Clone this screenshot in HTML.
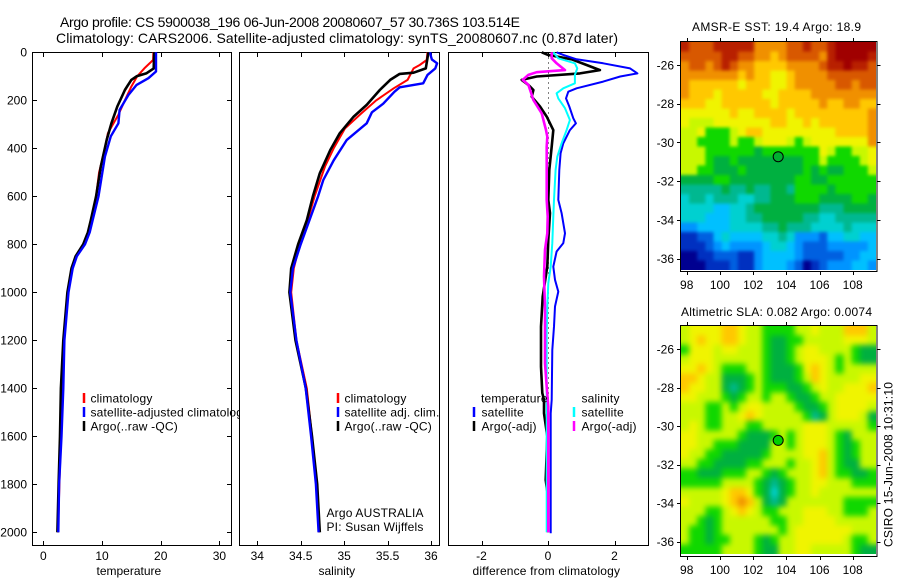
<!DOCTYPE html>
<html lang="en">
<head>
<meta charset="utf-8">
<title>Argo profile 5900038_196</title>
<style>
html,body{margin:0;padding:0;background:#fff;}
svg{display:block;}
text{font-family:"Liberation Sans",sans-serif;font-size:12px;fill:#000;}
.title{font-size:14px;}
.leg{letter-spacing:0.18px;}
</style>
</head>
<body>
<svg id="chart" width="900" height="580" viewBox="0 0 900 580" xmlns="http://www.w3.org/2000/svg">
  <defs>
    <filter id="blur-sst" x="-5%" y="-5%" width="110%" height="110%" color-interpolation-filters="sRGB"><feGaussianBlur stdDeviation="1.6"/></filter>
    <filter id="blur-sla" x="-5%" y="-5%" width="110%" height="110%" color-interpolation-filters="sRGB"><feGaussianBlur stdDeviation="2.8"/></filter>
    <clipPath id="clip-sst"><rect x="681" y="42" width="195" height="228"/></clipPath>
    <clipPath id="clip-sla"><rect x="681" y="326" width="195" height="228"/></clipPath>
  </defs>
  <rect x="0" y="0" width="900" height="580" fill="#fff"/>
  <text class="title" x="60" y="27" textLength="460" lengthAdjust="spacing">Argo profile: CS 5900038_196 06-Jun-2008 20080607_57 30.736S 103.514E</text>
  <text class="title" x="56" y="43" textLength="562" lengthAdjust="spacing">Climatology: CARS2006. Satellite-adjusted climatology: synTS_20080607.nc (0.87d later)</text>

  <g id="panel-temp">
    <rect x="32.5" y="52.5" width="199" height="493" fill="#fff" stroke="#000" stroke-width="1"/>
    <g id="temp-axes"></g>
    <g id="temp-lines"></g>
    <text x="96.5" y="575">temperature</text>
    <line x1="84" x2="84" y1="393" y2="403" stroke="#f00" stroke-width="2.5"/>
    <text class="leg" x="90.5" y="402.5">climatology</text>
    <line x1="84" x2="84" y1="407" y2="417" stroke="#00f" stroke-width="2.5"/>
    <text class="leg" x="90.5" y="416.5">satellite-adjusted climatology</text>
    <line x1="84" x2="84" y1="421" y2="431" stroke="#000" stroke-width="2.5"/>
    <text class="leg" x="90.5" y="430.5">Argo(..raw -QC)</text>
  </g>

  <g id="panel-sal">
    <rect x="239.5" y="52.5" width="200" height="493" fill="#fff" stroke="#000" stroke-width="1"/>
    <g id="sal-axes"></g>
    <g id="sal-lines"></g>
    <text x="318.5" y="575">salinity</text>
    <line x1="338" x2="338" y1="393" y2="403" stroke="#f00" stroke-width="2.5"/>
    <text class="leg" x="344.5" y="402.5">climatology</text>
    <line x1="338" x2="338" y1="407" y2="417" stroke="#00f" stroke-width="2.5"/>
    <text class="leg" x="344.5" y="416.5">satellite adj. clim.</text>
    <line x1="338" x2="338" y1="421" y2="431" stroke="#000" stroke-width="2.5"/>
    <text class="leg" x="344.5" y="430.5">Argo(..raw -QC)</text>
    <text class="leg" x="326.5" y="517">Argo AUSTRALIA</text>
    <text class="leg" x="326.5" y="531">PI: Susan Wijffels</text>
  </g>

  <g id="panel-diff">
    <rect x="448.5" y="52.5" width="200" height="493" fill="#fff" stroke="#000" stroke-width="1"/>
    <g id="diff-axes"></g>
    <g id="diff-lines"></g>
    <text x="472.5" y="575" textLength="147.5" lengthAdjust="spacing">difference from climatology</text>
    <text class="leg" x="481" y="402.5">temperature</text>
    <line x1="474" x2="474" y1="407" y2="417" stroke="#00f" stroke-width="2.5"/>
    <text class="leg" x="481.5" y="416.5">satellite</text>
    <line x1="474" x2="474" y1="421" y2="431" stroke="#000" stroke-width="2.5"/>
    <text class="leg" x="481.5" y="430.5">Argo(-adj)</text>
    <text class="leg" x="581.5" y="402.5">salinity</text>
    <line x1="574" x2="574" y1="407" y2="417" stroke="#0ff" stroke-width="2.5"/>
    <text class="leg" x="581.5" y="416.5">satellite</text>
    <line x1="574" x2="574" y1="421" y2="431" stroke="#f0f" stroke-width="2.5"/>
    <text class="leg" x="581.5" y="430.5">Argo(-adj)</text>
  </g>

  <g id="map-sst">
    <text x="692" y="31" textLength="169" lengthAdjust="spacing">AMSR-E SST: 19.4 Argo: 18.9</text>
  </g>
  <g id="map-sla">
    <text x="681" y="316" textLength="191" lengthAdjust="spacing">Altimetric SLA: 0.082 Argo: 0.0074</text>
  </g>
  <text transform="translate(892.5,547) rotate(-90)" textLength="165" lengthAdjust="spacing">CSIRO 15-Jun-2008 10:31:10</text>
</svg>

<script>
// ---------- profile data ----------
const tempClimDepth = [0,32,67,100,143,200,260,337,400,500,600,700,750,800,850,900,1000,1200,1400,1600,1800,2000];
const tempClimValues = [18.75,18.7,17.2,16,15,13.9,12.8,11,10.5,9.5,9,8.2,7.7,6.9,5.6,4.9,4.2,3.5,3.2,3.0,2.75,2.5];
const tempSatDepth = [0,80,108,136,178,240,296,350,435,600,700,750,800,850,900,1000,1200,1400,1600,1800,2000];
const tempSatValues = [19.2,19.2,17.9,15.9,14.5,13,12.8,11.5,10.5,9.4,8.4,7.9,7.1,5.7,5,4.3,3.6,3.4,3.1,2.7,2.55];
const tempArgoDepth = [0,67,87,100,115,157,226,296,365,476,600,700,750,800,850,900,1000,1200,1400,1600,1800,2000];
const tempArgoValues = [18.9,18.8,17.6,15.9,15,13.9,12.6,11.6,10.8,9.8,9,8.1,7.6,6.8,5.5,4.8,4.1,3.4,3.0,2.85,2.6,2.4];

const salClimDepth = [0,32,53,67,115,150,200,254,317,400,476,600,700,800,900,1000,1200,1400,1600,1800,2000];
const salClimValues = [35.96,35.95,35.87,35.8,35.73,35.57,35.37,35.2,35.01,34.88,34.78,34.66,34.58,34.49,34.42,34.39,34.45,34.57,34.63,34.68,34.71];
const salSatDepth = [0,18,30,46,67,94,129,146,164,214,250,296,365,450,532,600,700,800,900,1000,1200,1400,1600,1800,2000];
const salSatValues = [35.99,36,36.01,36.07,36.05,35.96,35.91,35.64,35.58,35.45,35.32,35.26,35.03,34.88,34.76,34.7,34.6,34.5,34.41,34.38,34.45,34.557,34.62,34.675,34.706];
const salArgoDepth = [0,67,85,90,115,157,219,268,337,407,504,600,700,800,900,1000,1200,1400,1600,1800,2000];
const salArgoValues = [35.97,35.94,35.8,35.64,35.53,35.41,35.26,35.11,34.95,34.84,34.72,34.64,34.57,34.47,34.39,34.37,34.44,34.56,34.63,34.69,34.72];

const diffTempSatDepth = [0,11,29,46,67,88,101,122,150,164,192,226,275,296,324,379,421,490,615,670,754,795,830,893,948,997,1059,1143,1240,1448,1504,2004];
const diffTempSatValues = [0.26,0.46,0.86,1.66,2.47,2.69,2.17,1.66,0.86,0.61,0.54,0.64,0.76,0.84,0.66,0.46,0.38,0.34,0.31,0.41,0.51,0.46,0.26,0.16,0.21,0.31,0.21,0.18,0.13,0.11,0.08,0.08];
const diffTempArgoDepth = [0,11,29,53,74,88,101,115,136,157,185,226,268,324,393,490,615,670,782,893,1018,1143,1310,1420,1448,1504,1600,1782,1830,2000];
const diffTempArgoValues = [-0.19,0,0.71,1.16,1.56,0.96,-0.34,-0.79,-0.59,-0.44,-0.49,-0.24,-0.04,0.16,0.11,0.04,0.01,0.06,0.01,-0.02,-0.16,-0.21,-0.21,-0.17,-0.12,-0.12,-0.02,-0.07,-0.02,0];
const diffSalSatDepth = [0,25,46,67,94,129,150,171,192,233,282,324,379,435,490,615,684,795,893,962,1059,1170,1448,2000];
const diffSalSatValues = [0.16,0.31,0.81,0.88,0.81,0.81,0.46,0.26,0.31,0.51,0.66,0.56,0.41,0.28,0.23,0.18,0.16,0.13,0.08,0.01,-0.02,-0.04,-0.04,-0.04];
const diffSalArgoDepth = [0,25,46,74,83,94,115,136,164,199,254,324,352,393,615,684,754,823,934,1059,1198,1296,1393,1476,1643,1851,2000];
const diffSalArgoValues = [0.11,0.11,0.26,0.51,-0.34,-0.59,-0.76,-0.59,-0.52,-0.44,-0.19,-0.06,-0.02,-0.04,-0.04,-0.01,-0.02,-0.09,-0.12,-0.09,-0.09,-0.09,-0.04,0.01,0.01,0.01,0.01];

// ---------- tick labels ----------
const depthTicks = [0,200,400,600,800,1000,1200,1400,1600,1800,2000];
const tempTicks = [0,10,20,30];
const salTicks = [34,34.5,35,35.5,36];
const diffTicks = [-2,0,2];
const lonTicks = [98,100,102,104,106,108];
const latTicks = [-26,-28,-30,-32,-34,-36];

// ---------- map data: colour level per cell, north to south ----------
const levelColours = ['#000090','#0030c0','#0060e0','#0094ff','#00c0ff','#00d0d0','#00b890','#00b040','#10d800','#c8f800','#f0f400','#ffc800','#f09000','#d85800','#b82000','#a00000'];
const sstGrid = [
[14,13,13,13,14,14,14,14,14,12,12,12,12,13,13,14,13,13,14,15,15,15,15,15],
[13,13,13,13,13,14,14,13,13,12,12,11,12,13,13,13,13,12,14,15,15,15,15,14],
[12,13,13,12,13,14,13,12,12,11,11,11,11,12,12,12,12,13,14,14,15,14,14,13],
[12,12,12,12,12,12,12,11,12,11,11,10,10,11,12,12,12,12,13,13,13,13,13,13],
[12,11,11,11,11,11,11,10,11,11,11,10,10,11,12,12,12,12,12,13,13,12,13,13],
[12,11,11,11,10,11,11,11,11,11,10,10,11,11,11,11,12,12,12,12,12,12,12,12],
[11,11,11,10,10,11,11,11,11,11,11,10,11,11,11,11,11,12,11,11,12,12,11,11],
[10,10,10,10,10,10,11,10,10,11,11,11,11,10,11,11,11,11,11,11,11,11,11,12],
[10,9,9,9,10,10,10,10,10,10,10,11,11,10,10,11,10,11,11,11,11,11,11,12],
[9,9,10,8,8,8,9,10,11,11,10,10,10,10,10,10,10,10,10,11,11,11,11,12],
[9,9,8,8,8,8,9,8,8,9,10,10,10,9,8,9,10,10,10,10,10,10,10,12],
[9,9,9,8,8,8,8,8,8,7,8,8,8,8,8,8,8,10,9,8,8,9,9,10],
[9,9,9,8,7,7,8,7,7,7,7,7,7,7,7,8,8,9,8,8,8,8,9,10],
[9,9,8,8,7,7,7,8,7,7,7,7,7,7,7,8,7,8,7,7,8,8,8,9],
[7,7,7,7,8,8,7,7,7,7,7,7,7,7,8,8,7,7,8,8,8,8,8,8],
[6,6,6,6,6,7,6,6,7,6,6,7,7,6,8,8,8,8,7,8,8,8,8,8],
[5,6,6,5,6,6,6,5,5,6,6,7,7,7,8,8,8,7,7,7,7,8,8,7],
[5,5,5,5,4,4,5,5,6,7,7,7,7,7,7,7,7,6,6,6,7,7,7,7],
[5,5,5,4,4,4,5,5,6,6,7,7,7,7,7,6,6,5,5,6,6,6,6,6],
[3,3,4,4,4,4,5,5,5,5,6,6,7,6,6,6,5,5,5,5,6,5,5,5],
[1,1,2,2,4,5,4,4,4,4,5,5,6,5,3,3,3,2,4,4,5,5,4,4],
[1,1,1,2,3,4,3,3,3,3,4,5,5,4,3,2,2,2,3,3,3,3,3,4],
[0,0,1,1,2,2,2,1,1,3,4,4,4,4,3,2,2,2,2,2,3,3,4,4],
[0,0,0,1,1,1,2,1,1,3,4,4,4,3,2,0,1,2,3,3,3,4,4,3]
];
const slaGrid = [
[9,10,10,10,10,11,11,10,9,9,8,8,8,8,9,9,10,9,9,9,11,11,11,9],
[9,10,11,10,10,11,11,10,9,9,8,7,7,8,8,9,9,9,9,9,10,10,10,9],
[8,10,10,10,9,10,10,9,9,9,8,7,7,8,9,10,10,9,9,9,9,8,7,7],
[9,10,10,10,9,9,9,9,9,9,8,7,7,8,9,10,10,10,9,8,9,8,7,7],
[10,10,11,10,9,8,8,8,9,9,8,7,7,7,8,10,11,10,9,8,9,9,9,9],
[11,11,10,9,9,7,7,7,8,9,8,7,7,7,8,9,11,10,9,9,9,9,10,10],
[11,10,10,9,9,7,6,7,8,9,8,8,8,7,7,8,9,10,9,9,10,10,10,11],
[10,10,9,9,9,8,7,8,9,9,8,9,9,8,7,7,8,9,9,10,10,10,10,10],
[9,9,9,8,8,9,8,9,10,10,9,9,9,9,8,7,7,8,9,10,10,10,10,9],
[9,9,9,8,8,9,9,10,11,10,9,9,9,9,9,8,6,7,9,10,10,10,9,7],
[9,10,9,8,8,9,9,9,8,8,9,9,9,9,9,10,10,10,9,9,9,9,9,8],
[10,10,9,9,9,9,9,8,7,7,7,8,9,8,9,10,10,10,9,8,7,9,9,9],
[10,10,9,9,8,8,8,7,7,7,7,9,9,8,9,10,10,10,9,8,7,8,9,9],
[10,9,9,8,8,7,7,7,7,7,8,9,9,9,9,10,10,11,9,8,7,8,9,9],
[9,9,8,8,7,7,7,7,8,8,9,9,9,8,9,9,10,11,9,8,7,7,9,9],
[8,8,7,7,7,8,8,8,9,9,8,7,8,9,9,9,10,11,9,8,8,7,7,8],
[8,8,8,8,8,9,9,9,9,8,7,6,7,8,9,9,10,10,9,9,9,8,8,8],
[9,9,9,9,9,10,11,11,10,8,7,5,7,8,9,9,10,9,9,9,9,9,9,9],
[10,9,9,9,9,10,11,12,11,9,7,6,7,9,9,9,9,9,9,9,8,8,8,8],
[9,9,9,8,8,9,10,11,10,9,8,8,9,9,9,10,10,10,9,9,8,8,8,9],
[9,9,8,7,8,9,9,9,9,9,9,8,8,9,9,10,10,10,10,9,9,9,9,9],
[9,8,8,7,8,9,9,9,9,9,9,9,8,9,10,10,10,10,10,10,10,9,9,9],
[9,8,8,7,8,8,9,9,9,8,7,8,9,9,10,10,10,10,10,10,9,8,8,9],
[8,8,8,8,8,9,9,9,9,8,7,7,9,9,10,10,9,9,9,9,9,8,7,7]
];
const argoLon = 103.514;
const argoLat = -30.736;

// ---------- axis functions ----------
const SVGNS = 'http://www.w3.org/2000/svg';
const yDepth = d => 52.3 + 0.24 * d;
const xTemp = v => 43.3 + 5.87 * v;
const xSal = v => 257.3 + 86.85 * (v - 34);
const xDiff = v => 548 + 33.25 * v;
const xLon = lon => 686.7 + 16.6 * (lon - 98);
const ySst = lat => 65 + 19.37 * (-26 - lat);
const ySla = lat => 349.3 + 19.24 * (-26 - lat);

function tick(parent, x1, y1, x2, y2, name) {
  const el = document.createElementNS(SVGNS, 'line');
  el.setAttribute('x1', x1);
  el.setAttribute('y1', y1);
  el.setAttribute('x2', x2);
  el.setAttribute('y2', y2);
  el.setAttribute('stroke', '#000');
  el.setAttribute('stroke-width', 1);
  
  
  parent.appendChild(el);
}
function label(parent, x, y, str, anchor, name) {
  const el = document.createElementNS(SVGNS, 'text');
  el.setAttribute('x', x);
  el.setAttribute('y', y);
  el.setAttribute('text-anchor', anchor);
  
  
  el.textContent = String(str);
  parent.appendChild(el);
}
function profile(parent, depths, values, xScale, colour, width, name) {
  const el = document.createElementNS(SVGNS, 'polyline');
  el.setAttribute('points', depths.map((d, i) => xScale(values[i]).toFixed(1) + ',' + yDepth(d).toFixed(1)).join(' '));
  el.setAttribute('fill', 'none');
  el.setAttribute('stroke', colour);
  el.setAttribute('stroke-width', width);
  el.setAttribute('stroke-linejoin', 'round');
  
  
  parent.appendChild(el);
}
function xAxis(parent, ticks, scale, prefix) {
  ticks.forEach(t => {
    const x = Math.round(scale(t)) + 0.5;
    tick(parent, x, 52.5, x, 57, prefix + '-top-tick');
    tick(parent, x, 545.5, x, 541, prefix + '-bottom-tick');
    label(parent, scale(t), 560, t, 'middle', prefix + '-tick-label');
  });
}

// ---------- profile panels ----------
const tempAxes = document.getElementById('temp-axes');
const salAxes = document.getElementById('sal-axes');
const diffAxes = document.getElementById('diff-axes');
depthTicks.forEach(d => {
  const y = Math.round(yDepth(d)) + 0.5;
  tick(tempAxes, 32.5, y, 37, y, 'depth-left-tick');
  tick(tempAxes, 231.5, y, 227, y, 'depth-right-tick');
  label(tempAxes, 27, yDepth(d) + 4.3, d, 'end', 'depth-tick-label');
});
xAxis(tempAxes, tempTicks, xTemp, 'temperature');
xAxis(salAxes, salTicks, xSal, 'salinity');
xAxis(diffAxes, diffTicks, xDiff, 'difference');

const zeroLine = document.createElementNS(SVGNS, 'line');
zeroLine.setAttribute('x1', Math.floor(xDiff(0)) + 0.5);
zeroLine.setAttribute('x2', Math.floor(xDiff(0)) + 0.5);
zeroLine.setAttribute('y1', yDepth(0));
zeroLine.setAttribute('y2', yDepth(2000));
zeroLine.setAttribute('stroke', '#000');
zeroLine.setAttribute('stroke-width', 1);
zeroLine.setAttribute('stroke-dasharray', '1 4');
zeroLine.setAttribute('shape-rendering', 'crispEdges');


diffAxes.appendChild(zeroLine);

const tempLines = document.getElementById('temp-lines');
profile(tempLines, tempClimDepth, tempClimValues, xTemp, '#f00', 2, 'temperature-climatology-line');
profile(tempLines, tempArgoDepth, tempArgoValues, xTemp, '#000', 2.6, 'temperature-argo-line');
profile(tempLines, tempSatDepth, tempSatValues, xTemp, '#00f', 2.4, 'temperature-satellite-line');

const salLines = document.getElementById('sal-lines');
profile(salLines, salClimDepth, salClimValues, xSal, '#f00', 2, 'salinity-climatology-line');
profile(salLines, salArgoDepth, salArgoValues, xSal, '#000', 2.6, 'salinity-argo-line');
profile(salLines, salSatDepth, salSatValues, xSal, '#00f', 2.4, 'salinity-satellite-line');

const diffLines = document.getElementById('diff-lines');
profile(diffLines, diffTempArgoDepth, diffTempArgoValues, xDiff, '#000', 2.6, 'difference-temperature-argo-line');
profile(diffLines, diffTempSatDepth, diffTempSatValues, xDiff, '#00f', 2, 'difference-temperature-satellite-line');
profile(diffLines, diffSalSatDepth, diffSalSatValues, xDiff, '#0ff', 2, 'difference-salinity-satellite-line');
profile(diffLines, diffSalArgoDepth, diffSalArgoValues, xDiff, '#f0f', 2.6, 'difference-salinity-argo-line');

// ---------- maps ----------
function drawMap(parent, grid, yLat, frameTop, frameBottom, labelY, prefix) {
  const imageLeft = 681, imageRight = 876, imageTop = frameTop + 1, imageBottom = imageTop + 228;
  const cols = grid[0].length, rows = grid.length;
  const cellW = (imageRight - imageLeft) / cols, cellH = (imageBottom - imageTop) / rows;
  const clipGroup = document.createElementNS(SVGNS, 'g');
  clipGroup.setAttribute('clip-path', 'url(#clip-' + prefix + ')');
  
  
  parent.appendChild(clipGroup);
  const cells = document.createElementNS(SVGNS, 'g');
  cells.setAttribute('filter', 'url(#blur-' + prefix + ')');
  
  
  clipGroup.appendChild(cells);
  grid.forEach((row, r) => {
    row.forEach((level, c) => {
      const x0 = imageLeft + cellW * c - (c === 0 ? 12 : 0);
      const x1 = imageLeft + cellW * (c + 1) + (c === cols - 1 ? 12 : 0);
      const y0 = imageTop + cellH * r - (r === 0 ? 12 : 0);
      const y1 = imageTop + cellH * (r + 1) + (r === rows - 1 ? 12 : 0);
      const cell = document.createElementNS(SVGNS, 'rect');
      cell.setAttribute('x', x0.toFixed(2));
      cell.setAttribute('y', y0.toFixed(2));
      cell.setAttribute('width', (x1 - x0 + 0.5).toFixed(2));
      cell.setAttribute('height', (y1 - y0 + 0.5).toFixed(2));
      cell.setAttribute('fill', levelColours[level]);
      
      
      cells.appendChild(cell);
    });
  });
  const frame = document.createElementNS(SVGNS, 'rect');
  frame.setAttribute('x', 680.5);
  frame.setAttribute('y', frameTop + 0.5);
  frame.setAttribute('width', 196.5);
  frame.setAttribute('height', frameBottom - frameTop);
  frame.setAttribute('fill', 'none');
  frame.setAttribute('stroke', '#000');
  frame.setAttribute('stroke-width', 1);
  
  
  parent.appendChild(frame);
  lonTicks.forEach(lon => {
    const x = Math.round(xLon(lon)) + 0.5;
    tick(parent, x, frameTop + 0.5, x, frameTop - 3, prefix + '-lon-top-tick');
    tick(parent, x, frameBottom + 0.5, x, frameBottom + 4, prefix + '-lon-bottom-tick');
    label(parent, xLon(lon), labelY, lon, 'middle', prefix + '-lon-tick-label');
  });
  latTicks.forEach(lat => {
    const y = Math.round(yLat(lat)) + 0.5;
    tick(parent, 680.5, y, 677, y, prefix + '-lat-left-tick');
    tick(parent, 877, y, 880.5, y, prefix + '-lat-right-tick');
    label(parent, 674, yLat(lat) + 4.3, '-' + Math.abs(lat), 'end', prefix + '-lat-tick-label');
  });
  const marker = document.createElementNS(SVGNS, 'circle');
  marker.setAttribute('cx', xLon(argoLon).toFixed(1));
  marker.setAttribute('cy', yLat(argoLat).toFixed(1));
  marker.setAttribute('r', 5);
  marker.setAttribute('fill', prefix === 'sst' ? '#00b030' : '#00d000');
  marker.setAttribute('stroke', '#000');
  marker.setAttribute('stroke-width', 1);
  
  
  parent.appendChild(marker);
}
drawMap(document.getElementById('map-sst'), sstGrid, ySst, 41, 271, 289, 'sst');
drawMap(document.getElementById('map-sla'), slaGrid, ySla, 325, 556, 574, 'sla');
</script>
</body>
</html>
